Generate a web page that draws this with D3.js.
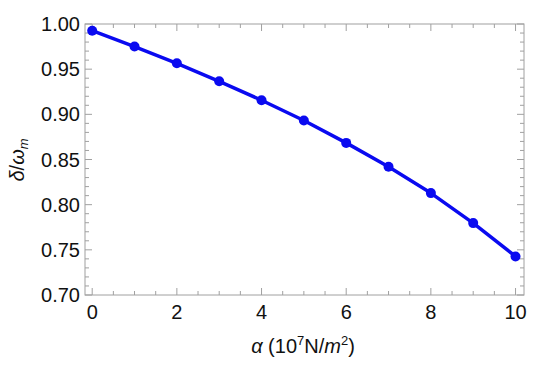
<!DOCTYPE html>
<html>
<head>
<meta charset="utf-8">
<script src="https://cdn.jsdelivr.net/npm/d3@7"></script>
<style>
  body { margin: 0; background: #fff; }
  svg { font-family: 'Liberation Sans', Arial, sans-serif; }
</style>
</head>
<body>
<svg width="550" height="370"></svg>
<script>
// alpha in 10^7 N/m^2
const alpha = [0, 1, 2, 3, 4, 5, 6, 7, 8, 9, 10];
// delta / omega_m
const ratio = [0.9926, 0.975, 0.9565, 0.9366, 0.9156, 0.8932, 0.8684, 0.8419, 0.8128, 0.7796, 0.7427];
const xTicks = [0, 2, 4, 6, 8, 10];
const yTicks = [0.70, 0.75, 0.80, 0.85, 0.90, 0.95, 1.00];

const svg = d3.select('svg');
const mLeft = 85, mRight = 524, mTop = 24, mBottom = 295;

const x = d3.scaleLinear().domain([-0.17, 10.2]).range([mLeft, mRight]);
const y = d3.scaleLinear().domain([0.70, 1.00]).range([mBottom, mTop]);

const frameColor = '#a0a0a0';
const blue = '#0a0af0';

// frame
svg.append('rect')
  .attr('x', mLeft).attr('y', mTop)
  .attr('width', mRight - mLeft).attr('height', mBottom - mTop)
  .attr('fill', 'none').attr('stroke', frameColor).attr('stroke-width', 1);

// ticks on all four sides, pointing inward
const xMinor = d3.range(0, 10.01, 0.5);
const yMinor = d3.range(0.70, 1.0001, 0.01);
const g = svg.append('g').attr('stroke', frameColor).attr('stroke-width', 1);

xMinor.forEach(v => {
  const len = xTicks.includes(v) ? 7 : 4;
  g.append('line').attr('x1', x(v)).attr('x2', x(v)).attr('y1', mBottom).attr('y2', mBottom - len);
  g.append('line').attr('x1', x(v)).attr('x2', x(v)).attr('y1', mTop).attr('y2', mTop + len);
});
yMinor.forEach(v => {
  const major = Math.abs(Math.round(v * 20) - v * 20) < 1e-6;
  const len = major ? 7 : 4;
  g.append('line').attr('y1', y(v)).attr('y2', y(v)).attr('x1', mLeft).attr('x2', mLeft + len);
  g.append('line').attr('y1', y(v)).attr('y2', y(v)).attr('x1', mRight).attr('x2', mRight - len);
});

// tick labels
svg.append('g').selectAll('text').data(xTicks).join('text')
  .attr('x', d => x(d)).attr('y', 319)
  .attr('text-anchor', 'middle').attr('font-size', 20).attr('fill', '#111')
  .text(d => d);

svg.append('g').selectAll('text').data(yTicks).join('text')
  .attr('x', 80).attr('y', d => y(d)).attr('dy', '0.35em')
  .attr('text-anchor', 'end').attr('font-size', 20).attr('fill', '#111')
  .text(d => d3.format('.2f')(d));

// axis titles
const xt = svg.append('text')
  .attr('x', 303).attr('y', 353).attr('text-anchor', 'middle')
  .attr('font-size', 20).attr('fill', '#111');
xt.append('tspan').attr('font-style', 'italic').text('α');
xt.append('tspan').text(' (10');
xt.append('tspan').attr('font-size', 13).attr('dy', -8).text('7');
xt.append('tspan').attr('dy', 8).text('N/');
xt.append('tspan').attr('font-style', 'italic').text('m');
xt.append('tspan').attr('font-size', 13).attr('dy', -8).text('2');
xt.append('tspan').attr('dy', 8).text(')');

const yt = svg.append('text')
  .attr('transform', 'translate(24,160) rotate(-90)')
  .attr('text-anchor', 'middle').attr('font-size', 20).attr('fill', '#111');
yt.append('tspan').attr('font-style', 'italic').text('δ');
yt.append('tspan').text('/');
yt.append('tspan').attr('font-style', 'italic').text('ω');
yt.append('tspan').attr('font-style', 'italic').attr('font-size', 13).attr('dy', 4).text('m');

// data
const pts = alpha.map((a, i) => [a, ratio[i]]);
svg.append('path')
  .datum(pts)
  .attr('d', d3.line().x(d => x(d[0])).y(d => y(d[1])))
  .attr('fill', 'none').attr('stroke', blue).attr('stroke-width', 3.5)
  .attr('stroke-linejoin', 'round');

svg.append('g').selectAll('circle').data(pts).join('circle')
  .attr('cx', d => x(d[0])).attr('cy', d => y(d[1])).attr('r', 5)
  .attr('fill', blue);
</script>
</body>
</html>
